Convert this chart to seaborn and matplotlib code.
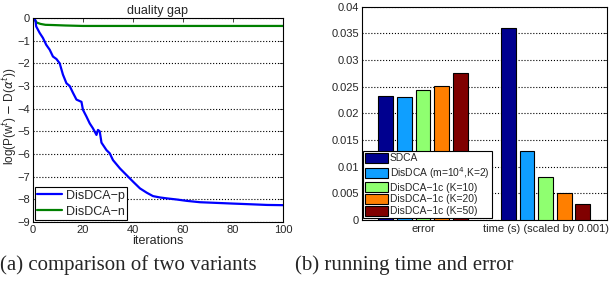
import numpy as np
import pandas as pd
import seaborn as sns
import matplotlib
matplotlib.use("Agg")
import matplotlib.pyplot as plt

sns.set_style("white")
plt.rcParams['font.family'] = ['Liberation Sans', 'DejaVu Sans']
plt.rcParams['mathtext.fontset'] = 'dejavusans'

# duality gap curves
iters_p = [0, 1, 1.3, 2.7, 4, 5.3, 6.7, 8, 9.4, 10.7, 12, 13.4, 14.7, 16, 17.4, 19.4,
           20, 21.4, 22.7, 24, 25.4, 26, 26.7, 27.4, 29.4, 30.7, 32, 34.8, 37.4,
           40.1, 42.8, 45.5, 48, 50.8, 53.5, 57.5, 61.5, 66.8, 73.5, 80, 87, 93.6, 100]
gap_p = [0, -0.1, -0.37, -0.66, -0.88, -1.18, -1.4, -1.7, -1.81, -2.0, -2.5, -2.88,
         -3.0, -3.3, -3.6, -3.7, -4.05, -4.35, -4.65, -4.87, -5.16, -4.94, -5.0, -5.5,
         -5.83, -5.97, -6.27, -6.64, -6.93, -7.23, -7.52, -7.71, -7.86, -7.92, -7.96,
         -8.01, -8.07, -8.13, -8.16, -8.19, -8.22, -8.25, -8.26]
iters_n = [0, 0.8, 1.5, 3, 5, 8, 13, 20, 40, 60, 80, 100]
gap_n = [0, -0.1, -0.2, -0.26, -0.3, -0.31, -0.33, -0.35, -0.35, -0.35, -0.35, -0.35]

# bar chart values
groups = ['error', 'time (s) (scaled by 0.001)']
methods = ['SDCA', r'DisDCA (m=10$^4$,K=2)', 'DisDCA\u22121c (K=10)',
           'DisDCA\u22121c (K=20)', 'DisDCA\u22121c (K=50)']
error_vals = [0.0232, 0.0230, 0.0243, 0.0251, 0.0275]
time_vals = [0.0360, 0.0130, 0.0081, 0.0051, 0.0030]
bar_colors = ['#00008F', '#0F9FFF', '#8FFF70', '#FF7F00', '#800000']
yticks_b = [0, 0.005, 0.01, 0.015, 0.02, 0.025, 0.03, 0.035, 0.04]
yticklabels_b = ['0', '0.005', '0.01', '0.015', '0.02', '0.025', '0.03', '0.035', '0.04']

fig = plt.figure(figsize=(6.1, 2.86), dpi=100)
ax1 = fig.add_axes([0.054, 0.224, 0.41, 0.713])
ax2 = fig.add_axes([0.593, 0.231, 0.402, 0.745])

# (a) line plot
df_p = pd.DataFrame({'it': iters_p, 'gap': gap_p})
df_n = pd.DataFrame({'it': iters_n, 'gap': gap_n})
sns.lineplot(data=df_n, x='it', y='gap', ax=ax1, color='#008000', lw=1.6, label='DisDCA\u2212n')
sns.lineplot(data=df_p, x='it', y='gap', ax=ax1, color='#0000FF', lw=1.6, label='DisDCA\u2212p')
ax1.set_xlim(0, 100)
ax1.set_ylim(-9, 0)
ax1.set_xticks([0, 20, 40, 60, 80, 100])
ax1.set_yticks(range(-9, 1))
ax1.set_yticklabels(['\u2212%d' % k if k else '0' for k in range(9, -1, -1)])
ax1.yaxis.grid(True, linestyle=':', color='black', lw=0.8)
ax1.set_title('duality gap', fontsize=9, pad=3)
ax1.set_xlabel('iterations', fontsize=9, labelpad=0)
ax1.set_ylabel(r'log(P(w$^t$) $-$ D($\alpha^t$))', fontsize=8.5)
ax1.yaxis.set_label_coords(-0.056, 0.52)
h, l = ax1.get_legend_handles_labels()
leg = ax1.legend(h[::-1], l[::-1], loc='lower left', fontsize=9, frameon=True,
                 fancybox=False, edgecolor='black', framealpha=1, borderpad=0.2,
                 handlelength=2.0, handletextpad=0.3, labelspacing=0.3,
                 borderaxespad=0.15)
leg.get_frame().set_linewidth(0.8)

# (b) bar chart
rows = []
for g, vals in zip(groups, [error_vals, time_vals]):
    for m, v in zip(methods, vals):
        rows.append({'group': g, 'method': m, 'value': v})
df_b = pd.DataFrame(rows)
sns.barplot(data=df_b, x='group', y='value', hue='method', hue_order=methods,
            palette=bar_colors, saturation=1, width=0.76, gap=0.2, edgecolor='black',
            linewidth=0.8, ax=ax2, zorder=3)
ax2.set_xlim(-0.5, 1.5)
ax2.set_ylim(0, 0.04)
ax2.set_yticks(yticks_b)
ax2.set_yticklabels(yticklabels_b)
ax2.yaxis.grid(True, linestyle=':', color='black', lw=0.8, zorder=0)
ax2.set_axisbelow(True)
ax2.set_xlabel('')
ax2.set_ylabel('')
leg2 = ax2.legend(loc='lower left', fontsize=7.4, frameon=True, fancybox=False,
                  edgecolor='black', framealpha=1, borderpad=0.2, handlelength=2.2,
                  handleheight=1.1, handletextpad=0.2, labelspacing=0.14,
                  borderaxespad=0.15)
leg2.get_frame().set_linewidth(0.8)

for ax in (ax1, ax2):
    for s in ax.spines.values():
        s.set_visible(True)
        s.set_color('black')
        s.set_linewidth(0.8)
    ax.tick_params(direction='in', top=True, right=True, labelsize=8, length=3,
                   width=0.6, pad=2)
ax2.tick_params(axis='x', length=0, pad=3)

fig.text(0.0, 0.055, '(a) comparison of two variants', fontsize=15,
         family=['Liberation Serif', 'DejaVu Serif'], ha='left')
fig.text(0.484, 0.055, '(b) running time and error', fontsize=15,
         family=['Liberation Serif', 'DejaVu Serif'], ha='left')

fig.savefig('out.png', dpi=100)
